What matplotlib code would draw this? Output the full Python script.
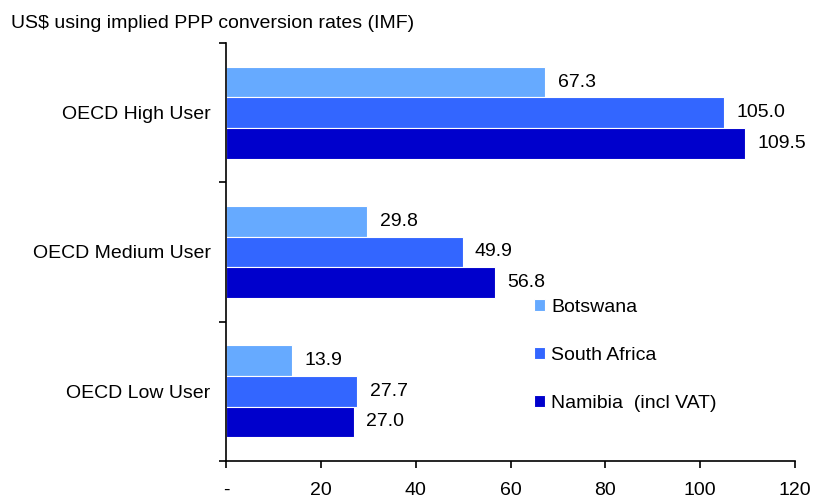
import matplotlib.pyplot as plt
import numpy as np

plt.rcParams["font.family"] = ["Liberation Sans", "DejaVu Sans"]

categories = ["OECD High User", "OECD Medium User", "OECD Low User"]
series = ["Botswana", "South Africa", "Namibia  (incl VAT)"]
botswana = [67.3, 29.8, 13.9]
south_africa = [105.0, 49.9, 27.7]
namibia = [109.5, 56.8, 27.0]
colors = ["#66AAFF", "#3366FF", "#0000CC"]
xticks = [0, 20, 40, 60, 80, 100, 120]
xtick_labels = ["-", "20", "40", "60", "80", "100", "120"]

fs = 14

fig = plt.figure(figsize=(8.13, 5.0), dpi=100)
ax = fig.add_axes([0.278, 0.078, 0.700, 0.836])

centers = np.arange(len(categories)) + 0.5
h = 0.22
for i, (vals, name, c) in enumerate(zip([botswana, south_africa, namibia], series, colors)):
    y = centers + (i - 1) * h
    ax.barh(y, vals, height=h, color=c, edgecolor="white", linewidth=0.8, label=name)
    for yy, v in zip(y, vals):
        ax.text(v + 2.6, yy, f"{v:.1f}", va="center", ha="left", fontsize=fs)

ax.set_ylim(len(categories), 0)
ax.set_xlim(0, 120)
ax.set_yticks(centers)
ax.set_yticklabels(categories, fontsize=fs)
ax.tick_params(axis="y", length=0, pad=11)
ax.set_yticks(np.arange(len(categories) + 1), minor=True)
ax.tick_params(axis="y", which="minor", length=5, width=1.2, direction="out")
ax.set_xticks(xticks)
ax.set_xticklabels(xtick_labels, fontsize=fs)
ax.tick_params(axis="x", length=5, width=1.2, direction="out", pad=10)
for s in ["top", "right"]:
    ax.spines[s].set_visible(False)
for s in ["left", "bottom"]:
    ax.spines[s].set_linewidth(1.2)

ax.legend(loc="lower left", bbox_to_anchor=(0.51, 0.075), frameon=False,
          fontsize=fs, handlelength=0.6, handleheight=0.6, handletextpad=0.3,
          labelspacing=1.6)

fig.text(0.014, 0.952, "US$ using implied PPP conversion rates (IMF)", fontsize=fs,
         ha="left", va="center")

fig.savefig("out.png", dpi=100)
